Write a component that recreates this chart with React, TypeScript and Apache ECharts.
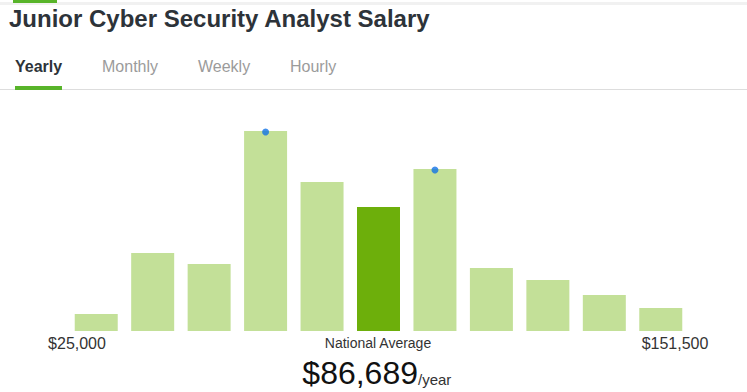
import React, { useEffect, useRef } from "react";
import * as echarts from "echarts";

const categories = ["b1", "b2", "b3", "b4", "b5", "b6", "b7", "b8", "b9", "b10", "b11"];
const counts = [17, 78, 67, 200, 149, 124, 162, 63, 51, 36, 23];
const averageIndex = 5;
const markerIndices = [3, 6];
const tabs = ["Yearly", "Monthly", "Weekly", "Hourly"];
const tabX = [15, 102, 198, 290];
const minLabel = "$25,000";
const maxLabel = "$151,500";
const averageLabel = "National Average";
const averageValue = "$86,689";
const averageUnit = "/year";

const FONT = "'Liberation Sans', Arial, sans-serif";

export default function App() {
  const ref = useRef<HTMLDivElement>(null);
  useEffect(() => {
    if (!ref.current) return;
    const chart = echarts.init(ref.current, null, { renderer: "svg" });
    const barData = counts.map((v, i) => ({
      value: v,
      itemStyle: { color: i === averageIndex ? "#6daf0b" : "#c3e098" },
    }));
    const dotData = categories.map((c, i) =>
      markerIndices.includes(i) ? counts[i] - 1 : null
    );
    chart.setOption({
      animation: false,
      grid: { left: 68, right: 58, top: 131, bottom: 61 },
      xAxis: {
        type: "category",
        data: categories,
        axisLine: { show: false },
        axisTick: { show: false },
        axisLabel: { show: false },
      },
      yAxis: {
        type: "value",
        min: 0,
        max: 200,
        show: false,
        splitLine: { show: false },
      },
      series: [
        {
          type: "bar",
          data: barData,
          barWidth: 43,
          silent: true,
        },
        {
          type: "scatter",
          data: dotData,
          symbolSize: 7,
          itemStyle: { color: "#1273e6" },
          z: 5,
        },
      ],
      graphic: [
        { type: "rect", shape: { x: 0, y: 2, width: 747, height: 3 }, style: { fill: "#f1f1f1" } },
        { type: "rect", shape: { x: 13, y: 0, width: 44, height: 3 }, style: { fill: "#58b42a" } },
        {
          type: "text",
          x: 9,
          y: 18,
          style: {
            text: "Junior Cyber Security Analyst Salary",
            font: `bold 24px ${FONT}`,
            fill: "#2d3339",
            verticalAlign: "middle",
          },
        },
        ...tabs.map((t, i) => ({
          type: "text",
          x: tabX[i],
          y: 66,
          style: {
            text: t,
            font: `${i === 0 ? "bold " : ""}16px ${FONT}`,
            fill: i === 0 ? "#2d3339" : "#9b9b9b",
            verticalAlign: "middle",
          },
        })),
        { type: "rect", shape: { x: 0, y: 89, width: 747, height: 1 }, style: { fill: "#dddddd" } },
        { type: "rect", shape: { x: 15, y: 86, width: 47, height: 4 }, style: { fill: "#58b42a" } },
        {
          type: "text",
          x: 77,
          y: 343,
          style: { text: minLabel, font: `16px ${FONT}`, fill: "#333", align: "center", verticalAlign: "middle" },
        },
        {
          type: "text",
          x: 675,
          y: 343,
          style: { text: maxLabel, font: `16px ${FONT}`, fill: "#333", align: "center", verticalAlign: "middle" },
        },
        {
          type: "text",
          x: 378,
          y: 343,
          style: { text: averageLabel, font: `14px ${FONT}`, fill: "#333", align: "center", verticalAlign: "middle" },
        },
        {
          type: "text",
          x: 418,
          y: 373,
          style: { text: averageValue, font: `32px ${FONT}`, fill: "#111", align: "right", verticalAlign: "middle" },
        },
        {
          type: "text",
          x: 418,
          y: 379,
          style: { text: averageUnit, font: `15px ${FONT}`, fill: "#333", align: "left", verticalAlign: "middle" },
        },
      ],
    });
    return () => chart.dispose();
  }, []);
  return <div ref={ref} style={{ width: 747, height: 392, position: "absolute", left: 0, top: 0, background: "#fff" }} />;
}
